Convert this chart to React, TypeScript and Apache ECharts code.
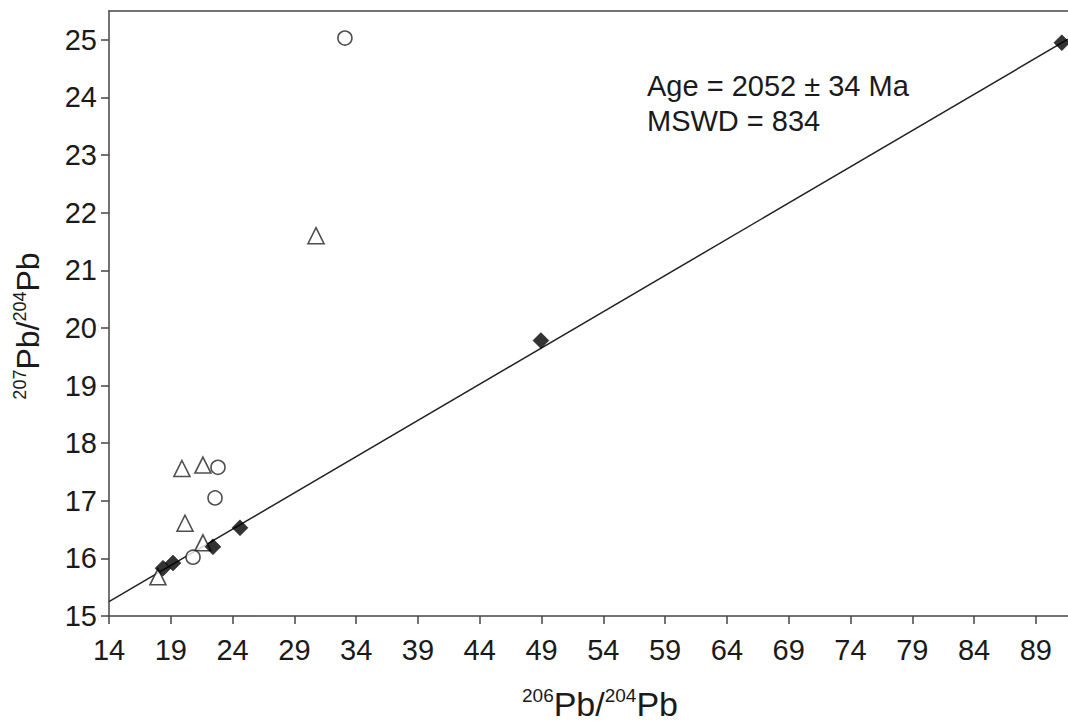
import React, { useEffect, useRef } from "react";
import * as echarts from "echarts";

const xTicks = [14, 19, 24, 29, 34, 39, 44, 49, 54, 59, 64, 69, 74, 79, 84, 89];
const yTicks = [15, 16, 17, 18, 19, 20, 21, 22, 23, 24, 25];

const diamonds: [number, number][] = [
  [18.37, 15.83],
  [19.18, 15.92],
  [22.41, 16.2],
  [24.6, 16.53],
  [48.95, 19.78],
  [91.1, 24.95],
];
const circles: [number, number][] = [
  [33.09, 25.03],
  [22.82, 17.58],
  [22.58, 17.05],
  [20.8, 16.02],
];
const triangles: [number, number][] = [
  [19.9, 17.56],
  [21.6, 17.62],
  [20.15, 16.61],
  [21.6, 16.27],
  [17.96, 15.68],
  [30.75, 21.6],
];
const isochron: [number, number][] = [
  [14, 15.25],
  [91.6, 25.01],
];
const annotation = ["Age = 2052 ± 34 Ma", "MSWD = 834"];

const FONT = "'Liberation Sans', Arial, sans-serif";

export default function App() {
  const ref = useRef<HTMLDivElement>(null);
  useEffect(() => {
    if (!ref.current) return;
    const chart = echarts.init(ref.current, null, { renderer: "svg" });
    const lineStyle = { color: "#444", width: 1.5 };
    chart.setOption({
      animation: false,
      backgroundColor: "#fff",
      grid: { left: 109, top: 11, right: 0, bottom: 109, show: false },
      xAxis: [
        {
          type: "value",
          min: 14,
          max: 91.6,
          axisLine: { show: true, lineStyle },
          axisTick: { show: true, length: 8, lineStyle, customValues: xTicks },
          splitLine: { show: false },
          axisLabel: {
            customValues: xTicks,
            fontSize: 29,
            fontFamily: FONT,
            color: "#1a1a1a",
            margin: 19,
          },
        },
        {
          type: "value",
          position: "top",
          min: 14,
          max: 91.6,
          axisLine: { show: true, lineStyle },
          axisTick: { show: false },
          axisLabel: { show: false },
          splitLine: { show: false },
        },
      ],
      yAxis: {
        type: "value",
        min: 15,
        max: 25.5,
        axisLine: { show: true, lineStyle },
        axisTick: { show: true, length: 8, lineStyle, customValues: yTicks },
        splitLine: { show: false },
        axisLabel: {
          customValues: yTicks,
          fontSize: 29,
          fontFamily: FONT,
          color: "#1a1a1a",
          margin: 12,
        },
      },
      graphic: [
        {
          type: "text",
          x: 647,
          y: 86,
          style: {
            text: annotation[0],
            font: `29px ${FONT}`,
            fill: "#1a1a1a",
            textAlign: "left",
            textVerticalAlign: "middle",
          },
        },
        {
          type: "text",
          x: 647,
          y: 121,
          style: {
            text: annotation[1],
            font: `29px ${FONT}`,
            fill: "#1a1a1a",
            textAlign: "left",
            textVerticalAlign: "middle",
          },
        },
        {
          type: "text",
          x: 600,
          y: 704,
          style: {
            text: "{s|206}{m|Pb/}{s|204}{m|Pb}",
            textAlign: "center",
            textVerticalAlign: "middle",
            fill: "#1a1a1a",
            rich: {
              s: { fontSize: 19, fontFamily: FONT, verticalAlign: "top", lineHeight: 36, fill: "#1a1a1a" },
              m: { fontSize: 34, fontFamily: FONT, lineHeight: 36, fill: "#1a1a1a" },
            },
          },
        },
        {
          type: "text",
          x: 28,
          y: 326,
          rotation: Math.PI / 2,
          style: {
            text: "{s|207}{m|Pb/}{s|204}{m|Pb}",
            textAlign: "center",
            textVerticalAlign: "middle",
            fill: "#1a1a1a",
            rich: {
              s: { fontSize: 18, fontFamily: FONT, verticalAlign: "top", lineHeight: 34, fill: "#1a1a1a" },
              m: { fontSize: 32, fontFamily: FONT, lineHeight: 34, fill: "#1a1a1a" },
            },
          },
        },
      ],
      series: [
        {
          type: "line",
          data: isochron,
          symbol: "none",
          lineStyle: { color: "#222", width: 1.5 },
          z: 1,
        },
        {
          type: "scatter",
          data: triangles,
          symbol: "triangle",
          symbolSize: 16,
          itemStyle: { color: "#fff", borderColor: "#222", borderWidth: 1.6 },
          z: 3,
        },
        {
          type: "scatter",
          data: circles,
          symbol: "circle",
          symbolSize: 14,
          itemStyle: { color: "#fff", borderColor: "#222", borderWidth: 1.6 },
          z: 3,
        },
        {
          type: "scatter",
          data: diamonds,
          symbol: "diamond",
          symbolSize: 16,
          itemStyle: { color: "#000", borderColor: "#000", borderWidth: 0.5 },
          z: 4,
        },
      ],
    });
    return () => chart.dispose();
  }, []);
  return (
    <div
      ref={ref}
      style={{ position: "absolute", left: 0, top: 0, width: 1068, height: 725, background: "#fff" }}
    />
  );
}
